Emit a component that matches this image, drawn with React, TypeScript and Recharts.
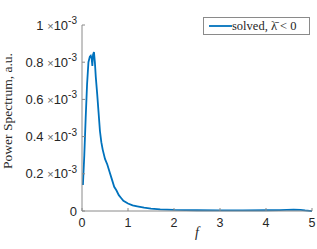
import { Legend, Line, LineChart, XAxis, YAxis } from 'recharts'

// frequency f and power spectrum (in units of 1e-3 a.u.)
const freq = [
  0.02, 0.05, 0.08, 0.11, 0.14, 0.17, 0.19, 0.21, 0.225, 0.24, 0.26, 0.28, 0.3, 0.33, 0.36, 0.39,
  0.42, 0.45, 0.5, 0.55, 0.6, 0.65, 0.7, 0.75, 0.8, 0.85, 0.9, 1.0, 1.1, 1.2, 1.35, 1.5, 1.7, 2.0,
  2.5, 3.0, 3.5, 4.0, 4.3, 4.6, 4.75, 4.85, 4.95, 5.0,
]
const powerE3 = [
  0.14, 0.3, 0.5, 0.68, 0.8, 0.83, 0.835, 0.82, 0.78, 0.84, 0.855, 0.8, 0.72, 0.63, 0.53, 0.43,
  0.37, 0.33, 0.28, 0.25, 0.21, 0.17, 0.13, 0.11, 0.085, 0.07, 0.055, 0.04, 0.03, 0.025, 0.018,
  0.013, 0.009, 0.006, 0.004, 0.003, 0.003, 0.004, 0.005, 0.007, 0.006, 0.003, 0.001, 0,
]
const xTicks = [0, 1, 2, 3, 4, 5]
const yTicks = [0, 0.2, 0.4, 0.6, 0.8, 1]
const seriesName = 'solved, λ̄ < 0'

const data = freq.map((f, i) => ({ f, p: powerE3[i] }))

const AXIS = '#8a8a8a'
const TEXT = '#262626'
const BLUE = '#0072BD'
const SANS = '"Liberation Sans", Arial, sans-serif'
const SERIF = '"Liberation Serif", "DejaVu Serif", serif'
const TICK = 3

function BottomTick({ x, y, payload }: any) {
  return (
    <g>
      <line x1={x} x2={x} y1={y} y2={y - TICK} stroke={AXIS} />
      <text x={x} y={y + 16} textAnchor="middle" fontFamily={SANS} fontSize={12.5} fill={TEXT}>
        {payload.value}
      </text>
    </g>
  )
}

function TopTick({ x, y }: any) {
  return <line x1={x} x2={x} y1={y} y2={y + TICK} stroke={AXIS} />
}

function LeftTick({ x, y, payload }: any) {
  const v = payload.value
  const label =
    v === 0 ? (
      <tspan>0</tspan>
    ) : (
      <>
        <tspan>{v === 1 ? '1' : v.toFixed(1)} </tspan>
        <tspan fontSize={11} fill="#666">×</tspan>
        <tspan>10</tspan>
        <tspan dy={-5.5} fontSize={10}>-3</tspan>
      </>
    )
  return (
    <g>
      <line x1={x} x2={x + TICK} y1={y} y2={y} stroke={AXIS} />
      <text x={x - 5} y={y + 4.5} textAnchor="end" fontFamily={SANS} fontSize={13} fill={TEXT}>
        {label}
      </text>
    </g>
  )
}

function RightTick({ x, y }: any) {
  return <line x1={x} x2={x - TICK} y1={y} y2={y} stroke={AXIS} />
}

function LegendBox() {
  return (
    <div
      style={{
        display: 'flex',
        alignItems: 'center',
        border: `1px solid ${AXIS}`,
        background: '#fff',
        height: 18,
        width: 107,
        boxSizing: 'border-box',
        padding: '0 0 0 5px',
      }}
    >
      <svg width={23} height={4}>
        <line x1={0} x2={23} y1={2} y2={2} stroke={BLUE} strokeWidth={1.8} />
      </svg>
      <span style={{ fontFamily: SERIF, fontSize: 12.5, color: TEXT, whiteSpace: 'nowrap' }}>
        {seriesName}
      </span>
    </div>
  )
}

export default function App() {
  return (
    <div style={{ position: 'absolute', left: 0, top: 0, width: 317, height: 249, background: '#fff' }}>
      <LineChart width={317} height={249} data={data} margin={{ top: 7, right: 5, bottom: 0, left: 0 }}>
        <XAxis
          dataKey="f"
          type="number"
          domain={[0, 5]}
          ticks={xTicks}
          height={38}
          tickSize={0}
          tickMargin={0}
          tickLine={false}
          axisLine={{ stroke: AXIS }}
          tick={<BottomTick />}
          label={{
            value: 'f',
            position: 'insideBottom',
            offset: 12,
            style: { fontFamily: SERIF, fontStyle: 'italic', fontSize: 14, fill: TEXT },
          }}
        />
        <XAxis
          xAxisId="top"
          orientation="top"
          type="number"
          domain={[0, 5]}
          ticks={xTicks}
          height={0}
          tickSize={0}
          tickMargin={0}
          tickLine={false}
          axisLine={{ stroke: AXIS }}
          tick={<TopTick />}
        />
        <YAxis
          type="number"
          domain={[0, 1]}
          ticks={yTicks}
          width={82}
          tickSize={0}
          tickMargin={0}
          tickLine={false}
          axisLine={{ stroke: AXIS }}
          tick={<LeftTick />}
          label={{
            value: 'Power Spectrum, a.u.',
            angle: -90,
            position: 'insideLeft',
            offset: 0,
            dx: 7,
            dy: -7,
            style: { textAnchor: 'middle', fontFamily: SERIF, fontSize: 13.5, fill: TEXT },
          }}
        />
        <YAxis
          yAxisId="right"
          orientation="right"
          type="number"
          domain={[0, 1]}
          ticks={yTicks}
          width={0}
          tickSize={0}
          tickMargin={0}
          tickLine={false}
          axisLine={{ stroke: AXIS }}
          tick={<RightTick />}
        />
        <Legend
          verticalAlign="top"
          align="right"
          content={<LegendBox />}
          wrapperStyle={{ top: 17, right: 7, left: 'auto', width: 'auto' }}
        />
        <Line
          dataKey="p"
          name={seriesName}
          type="linear"
          stroke={BLUE}
          strokeWidth={1.8}
          dot={false}
          isAnimationActive={false}
        />
      </LineChart>
    </div>
  )
}
